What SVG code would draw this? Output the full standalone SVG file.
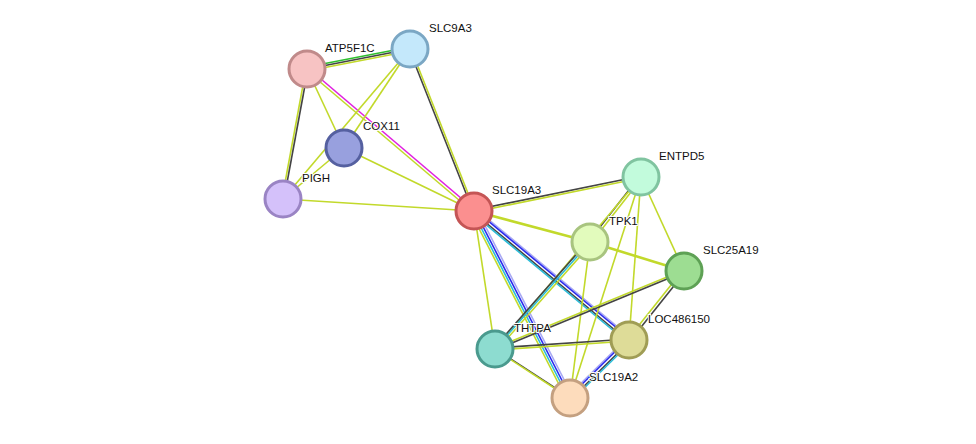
<svg xmlns="http://www.w3.org/2000/svg" width="976" height="444" viewBox="0 0 976 444">
<style>
line{stroke-width:1.6;fill:none}
.y{stroke:#c2d92b}.k{stroke:#444}.g{stroke:#2dbf2d}.m{stroke:#e020e0}.b{stroke:#2a2aee}.p{stroke:#a8a8f4}.c{stroke:#2bbcd8}
circle{stroke-width:3}
text{font-family:"Liberation Sans",Arial,sans-serif;font-size:11.5px;fill:#111;paint-order:stroke;stroke:#fff;stroke-width:2px}
</style>
<rect width="976" height="444" fill="#fff"/>
<g id="edges">
<line class="g" x1="307" y1="67" x2="410" y2="47"/><line class="k" x1="307" y1="69" x2="410" y2="49"/><line class="y" x1="307" y1="71" x2="410" y2="51"/>
<line class="y" x1="306" y1="69" x2="282" y2="199"/><line class="k" x1="308" y1="69" x2="284" y2="199"/>
<line class="y" x1="307" y1="69" x2="344" y2="148"/>
<line class="m" x1="308" y1="68" x2="475" y2="210"/><line class="y" x1="306" y1="70" x2="473" y2="212"/>
<line class="y" x1="410" y1="49" x2="344" y2="148"/>
<line class="y" x1="410" y1="49" x2="283" y2="199"/>
<line class="k" x1="409" y1="49" x2="473" y2="211"/><line class="y" x1="411" y1="49" x2="475" y2="211"/>
<line class="y" x1="344" y1="148" x2="283" y2="199"/>
<line class="y" x1="344" y1="148" x2="474" y2="211"/>
<line class="y" x1="283" y1="199" x2="474" y2="211"/>
<line class="k" x1="474" y1="210" x2="641" y2="176"/><line class="y" x1="474" y1="212" x2="641" y2="178"/>
<line class="y" x1="474" y1="211" x2="590" y2="242" style="stroke-width:2.6"/>
<line class="y" x1="590" y1="242" x2="684" y2="271" style="stroke-width:2.6"/>
<line class="y" x1="474" y1="211" x2="495" y2="349"/>
<line class="p" x1="476" y1="209" x2="631" y2="338"/><line class="b" x1="475" y1="210" x2="630" y2="339"/><line class="k" x1="473" y1="212" x2="628" y2="341"/><line class="c" x1="472" y1="213" x2="627" y2="342"/>
<line class="p" x1="477" y1="210" x2="573" y2="397"/><line class="b" x1="475" y1="211" x2="571" y2="398"/><line class="c" x1="473" y1="212" x2="569" y2="399"/><line class="y" x1="471" y1="213" x2="567" y2="400"/>
<line class="k" x1="640" y1="176" x2="589" y2="241"/><line class="y" x1="642" y1="178" x2="591" y2="243"/>
<line class="y" x1="641" y1="177" x2="495" y2="349"/>
<line class="y" x1="641" y1="177" x2="570" y2="398"/>
<line class="y" x1="641" y1="177" x2="629" y2="340"/>
<line class="y" x1="641" y1="177" x2="684" y2="271"/>
<line class="k" x1="589" y1="240" x2="494" y2="348"/><line class="c" x1="590" y1="242" x2="495" y2="349"/><line class="y" x1="592" y1="243" x2="497" y2="350"/>
<line class="y" x1="590" y1="242" x2="570" y2="398"/>
<line class="y" x1="684" y1="270" x2="495" y2="348"/><line class="k" x1="684" y1="272" x2="495" y2="350"/>
<line class="y" x1="683" y1="270" x2="628" y2="339"/><line class="k" x1="685" y1="272" x2="630" y2="341"/>
<line class="k" x1="495" y1="348" x2="629" y2="339"/><line class="y" x1="495" y1="350" x2="629" y2="341"/>
<line class="k" x1="494" y1="348" x2="569" y2="397"/><line class="y" x1="496" y1="350" x2="571" y2="399"/>
<line class="p" x1="627" y1="338" x2="568" y2="396"/><line class="b" x1="628" y1="339" x2="569" y2="397"/><line class="k" x1="630" y1="341" x2="571" y2="399"/><line class="c" x1="631" y1="342" x2="572" y2="400"/>
</g>
<g id="ATP5F1C"><circle cx="307" cy="69" r="18" fill="#f7c3c3" stroke="#c08a8a"/><text x="325" y="52">ATP5F1C</text></g>
<g id="SLC9A3"><circle cx="410" cy="49" r="18" fill="#c4e8fb" stroke="#7ba7c4"/><text x="429" y="32">SLC9A3</text></g>
<g id="COX11"><circle cx="344" cy="148" r="18" fill="#98a0de" stroke="#5560a0"/><text x="363" y="130">COX11</text></g>
<g id="PIGH"><circle cx="283" cy="199" r="18" fill="#d4c1fa" stroke="#9a84c4"/><text x="302" y="182">PIGH</text></g>
<g id="SLC19A3"><circle cx="474" cy="211" r="18" fill="#fb8f8f" stroke="#c45555"/><text x="492" y="194">SLC19A3</text></g>
<g id="ENTPD5"><circle cx="641" cy="177" r="18" fill="#c2fbdc" stroke="#80c4a0"/><text x="659" y="160">ENTPD5</text></g>
<g id="TPK1"><circle cx="590" cy="242" r="18" fill="#e2fbbc" stroke="#a8c47f"/><text x="609" y="225">TPK1</text></g>
<g id="SLC25A19"><circle cx="684" cy="271" r="18" fill="#9ddd92" stroke="#5ea155"/><text x="703" y="254">SLC25A19</text></g>
<g id="LOC486150"><circle cx="629" cy="340" r="18" fill="#dedc98" stroke="#a09d55"/><text x="648" y="323">LOC486150</text></g>
<g id="THTPA"><circle cx="495" cy="349" r="18" fill="#8ddcd0" stroke="#4a9a8e"/><text x="514" y="332">THTPA</text></g>
<g id="SLC19A2"><circle cx="570" cy="398" r="18" fill="#fddcbc" stroke="#c4a080"/><text x="589" y="381">SLC19A2</text></g>
</svg>
